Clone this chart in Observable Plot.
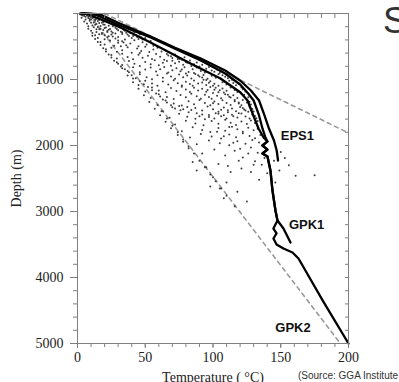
<!DOCTYPE html>
<html>
<head>
<meta charset="utf-8">
<script src="https://cdn.jsdelivr.net/npm/d3@7"></script>
<script src="https://cdn.jsdelivr.net/npm/@observablehq/plot@0.6"></script>
<style>
  html, body { margin: 0; padding: 0; background: #fff; }
  #wrap { position: relative; width: 399px; height: 382px; overflow: hidden; }
  #title { position: absolute; left: 383px; top: 1px; font-family: "Liberation Sans", Arial, sans-serif; font-size: 36px; color: #333; line-height: 40px; white-space: nowrap; }
  #source { position: absolute; left: 298px; top: 370px; font-family: "Liberation Sans", Arial, sans-serif; font-size: 10px; color: #333; line-height: 12px; white-space: nowrap; }
</style>
</head>
<body>
<div id="wrap">
  <div id="chart"></div>
  <div id="title">S</div>
  <div id="source">(Source: GGA Institute</div>
</div>
<script>
// ---- Data (temperature °C, depth m) ----
const xMajor = [0, 50, 100, 150, 200];
const yMajor = [1000, 2000, 3000, 4000, 5000];
const xMinor = d3.range(0, 201, 10);
const yMinor = d3.range(0, 5001, 200);

const eps1 = [[4,0],[12,5],[17,15],[30,140],[54,348],[72,520],[91,682],[109,864],[120,1015],[128,1167],[134,1318],[138,1545],[141,1727],[145,1924],[147,2076],[148,2227]];
const gpk1 = [[3,0],[10,5],[13,15],[30,170],[54,364],[72,535],[91,712],[109,909],[120,1076],[126,1212],[130,1318],[134,1545],[136.5,1742],[138.7,1879],[140.2,1939],[136.5,2000],[140.2,2061],[136.5,2121],[140.2,2167],[142.4,2379],[143.9,2682],[146.1,2985],[147.6,3136],[152,3258],[157.2,3470]];
const gpk2 = [[2,0],[6,5],[8.1,15],[31.7,212],[53.9,439],[83.4,758],[105.5,985],[120.3,1197],[125.5,1318],[129.2,1515],[133.6,1742],[137.3,1879],[140.2,1939],[136.5,2000],[140.2,2061],[136.5,2121],[140.2,2167],[142.4,2379],[143.9,2682],[146.1,2985],[147.6,3136],[144.6,3258],[146.9,3333],[144.6,3409],[146.9,3500],[152,3561],[158.7,3621],[163.1,3712],[181,4350],[200,5000]];

const gradHigh = [[20,0],[200,1810]];
const gradLow = [[8,0],[194,5000]];

const wellLabels = [
  {name: "EPS1", T: 150, z: 1924},
  {name: "GPK1", T: 156, z: 3258},
  {name: "GPK2", T: 146, z: 4833}
];

const scatter = [
[2,10],[4,30],[5,15],[6,50],[7,25],[8,70],[9,40],[10,90],[11,20],[12,60],[13,35],[14,80],[15,55],[16,95],[3,65],[9,85],[12,10],[17,45],[6,90],[10,55],
[5,120],[7,150],[9,110],[11,180],[12,135],[14,160],[15,115],[17,190],[18,140],[20,170],[22,125],[23,185],[25,155],[8,195],[13,105],[19,110],[26,195],[16,145],
[8,230],[10,260],[12,210],[14,280],[16,240],[18,295],[20,220],[22,265],[24,235],[26,290],[28,215],[30,255],[32,275],[34,245],[36,290],[11,295],[19,250],
[13,330],[15,370],[18,310],[20,390],[23,345],[25,320],[28,380],[30,355],[33,310],[35,395],[38,340],[40,370],[43,325],[45,385],[47,360],[22,360],
[17,430],[20,470],[24,410],[27,490],[30,445],[33,420],[36,480],[39,455],[42,405],[45,495],[48,435],[51,470],[54,415],[56,490],[32,495],
[21,540],[25,520],[29,580],[33,555],[37,510],[40,595],[44,530],[47,570],[50,505],[53,585],[56,545],[59,520],[62,575],[65,560],[46,600],
[25,630],[29,680],[33,610],[37,660],[41,695],[45,625],[48,670],[52,640],[55,690],[58,615],[61,655],[64,700],[67,635],[70,675],[73,650],[75,690],
[29,740],[33,780],[38,720],[42,760],[46,795],[50,735],[54,770],[57,710],[60,785],[63,745],[66,720],[69,790],[72,755],[75,730],[78,775],[81,745],[84,795],[70,715],
[33,830],[37,870],[41,815],[46,890],[50,850],[54,820],[58,880],[61,845],[64,810],[67,895],[70,860],[73,830],[76,875],[79,815],[82,885],[85,845],[88,820],[91,870],[94,895],[77,850],
[37,940],[41,985],[46,920],[51,965],[55,995],[59,935],[63,975],[66,910],[69,955],[72,990],[75,925],[78,965],[81,940],[84,985],[87,915],[90,955],[93,930],[96,990],[99,945],[102,975],[104,920],[80,910],
[41,1040],[45,1085],[50,1020],[55,1060],[59,1095],[63,1030],[67,1075],[71,1010],[74,1055],[77,1090],[80,1035],[83,1070],[86,1015],[89,1060],[92,1045],[95,1085],[98,1025],[101,1065],[104,1095],[107,1040],[110,1075],[85,1095],[93,1005],
[45,1140],[50,1180],[55,1120],[60,1165],[65,1195],[69,1130],[73,1175],[77,1110],[80,1150],[83,1190],[86,1125],[89,1165],[92,1140],[95,1185],[98,1115],[101,1155],[104,1195],[107,1135],[110,1170],[113,1120],[116,1160],[118,1190],[96,1160],
[49,1240],[54,1280],[60,1225],[66,1265],[71,1295],[76,1235],[80,1270],[84,1215],[88,1255],[91,1290],[94,1230],[97,1265],[100,1205],[103,1245],[106,1285],[109,1225],[112,1260],[115,1240],[118,1280],[121,1215],[99,1290],
[53,1340],[59,1385],[65,1320],[71,1365],[77,1395],[82,1330],[86,1375],[90,1310],[94,1355],[98,1390],[101,1335],[104,1370],[107,1315],[110,1355],[113,1385],[116,1330],[119,1365],[122,1310],[125,1350],[100,1360],
[57,1445],[63,1480],[70,1420],[76,1465],[82,1495],[87,1430],[92,1470],[96,1410],[100,1450],[104,1490],[108,1425],[111,1465],[114,1440],[117,1480],[120,1415],[123,1455],[126,1490],[106,1460],
[61,1540],[68,1580],[75,1520],[81,1565],[87,1595],[92,1530],[97,1570],[102,1510],[106,1555],[110,1590],[114,1535],[118,1575],[121,1515],[124,1560],[127,1590],[129,1530],
[65,1640],[72,1680],[80,1625],[87,1665],[93,1695],[99,1630],[104,1670],[109,1610],[113,1655],[117,1690],[121,1635],[125,1675],[128,1620],[131,1660],
[69,1740],[77,1785],[85,1725],[92,1765],[98,1795],[104,1735],[109,1775],[114,1715],[118,1755],[122,1790],[126,1730],[130,1770],[133,1745],
[74,1840],[83,1880],[91,1825],[99,1865],[106,1895],[112,1835],[117,1875],[122,1815],[127,1855],[131,1890],[135,1840],
[78,1945],[88,1980],[97,1925],[105,1965],[112,1995],[118,1935],[124,1975],[129,1915],[134,1955],
[82,2040],[92,2120],[101,2060],[109,2150],[116,2080],[122,2180],[128,2030],[133,2110],[138,2190],[145,2230],[150,2100],
[85,2250],[95,2330],[104,2280],[113,2400],[121,2350],[130,2290],[140,2420],[149,2380],[156,2300],[161,2460],[175,2450],[88,2380],[100,2480],[110,2560],
[105,2650],[118,2700],[98,2620],[108,2800],[125,2850],[116,2920],
[3,22],[5,38],[7,12],[8,48],[9,28],[11,68],[12,42],[13,88],[14,18],[15,72],[16,33],[18,58],[19,128],[21,96],[10,142],[13,172],[15,205],[17,232],[19,168],[21,212],[23,248],[24,118],[25,272],[27,182],[28,302],[29,236],[31,208],[33,288],[35,262],[37,318],[39,296],[41,342],[42,284],[44,356],[46,318],[48,395],[50,372],[14,240],[16,315],[20,330],[22,280],[26,350],[30,410],[34,440],
[66,612],[69,648],[72,622],[74,688],[77,702],[79,664],[80,735],[83,712],[86,768],[88,742],[90,802],[92,778],[95,836],[97,812],[99,862],[101,884],[103,848],[105,902],[107,936],[109,958],[111,982],[112,1018],[114,1004],[115,1052],[117,1088],[119,1062],[121,1122],[122,1148],[124,1182],[123,1232],[126,1268],[125,1302],[127,1336],[128,1378],[127,1412],[129,1448],[130,1486],[131,1552],[132,1588],[133,1628],
[86,902],[89,935],[92,968],[95,1008],[97,1048],[100,1096],[102,1124],[105,1164],[108,1198],[111,1232],[113,1272],[116,1312],[119,1348],[121,1392],[122,1432],[124,1468],[119,1512],[115,1556],[111,1498],[108,1542],[104,1518],[101,1592],[97,1538],[94,1602],[90,1556],[88,1510],[84,1462],
[81,1418],[78,1452],[75,1402],[72,1438],[69,1392],[66,1348],[63,1302],[61,1258],[58,1212],[55,1162],[52,1114],[49,1072],[46,1028],[43,982],[40,936],[38,892],[35,846],[32,804],[30,762],[27,716],[25,668],[23,620],[21,574],[19,526],[17,478],[15,432],[13,386],[11,338],
[62,1480],[66,1590],[70,1700],[74,1800],[78,1910],[82,2010],[86,2120],[90,2230],[94,2330],[98,2440],[102,2540],[106,2650],[110,2760],
[112,1720],[108,1860],[103,1790],[115,1960],[120,2050],[126,2120],[131,2240],[136,2290],[142,2330],[119,2230],[111,2310],[128,2400],[134,2520],[146,2560],[153,2190]
];

// ---- Build tables ----
const wells = [
  ...eps1.map(([T, z]) => ({well: "EPS1", T, z})),
  ...gpk1.map(([T, z]) => ({well: "GPK1", T, z})),
  ...gpk2.map(([T, z]) => ({well: "GPK2", T, z}))
];
const grads = [
  ...gradHigh.map(([T, z]) => ({g: "high", T, z})),
  ...gradLow.map(([T, z]) => ({g: "low", T, z}))
];
const pts = scatter.map(([T, z]) => ({T, z}));

const axisColor = "#808080";
const serif = "'Liberation Serif', 'Times New Roman', serif";
const blank = () => "";
const fmt = d3.format("d");

const chart = Plot.plot({
  width: 399,
  height: 382,
  marginLeft: 77,
  marginRight: 51,
  marginTop: 13,
  marginBottom: 39,
  x: {domain: [0, 200]},
  y: {domain: [0, 5000], reverse: true},
  style: {fontFamily: serif, fontSize: "14px", color: "#222", background: "white"},
  marks: [
    Plot.line(grads, {x: "T", y: "z", z: "g", stroke: "#999", strokeWidth: 1.6, strokeDasharray: "4,4"}),
    Plot.dot(pts, {x: "T", y: "z", r: 1, fill: "#3c3c3c", stroke: null}),
    Plot.line(wells, {x: "T", y: "z", z: "well", stroke: "#000", strokeWidth: 2.3, curve: "linear"}),
    Plot.text(wellLabels, {x: "T", y: "z", text: "name", textAnchor: "start", lineAnchor: "bottom", fontFamily: "'Liberation Sans', Arial, sans-serif", fontWeight: "bold", fontSize: 13, fill: "#111"}),
    Plot.frame({stroke: axisColor, strokeWidth: 1}),
    Plot.axisX({ticks: xMajor, tickSize: 5, tickPadding: 4, tickFormat: fmt, stroke: axisColor, fill: "#222", fontFamily: serif, fontSize: 14, label: "Temperature ( °C)", labelArrow: "none", labelAnchor: "center", labelOffset: 38}),
    Plot.axisX({ticks: xMinor, tickSize: 4, tickFormat: blank, stroke: axisColor, label: null}),
    Plot.axisX({anchor: "top", ticks: xMinor, tickSize: -4, tickFormat: blank, stroke: axisColor, label: null}),
    Plot.axisY({ticks: yMajor, tickSize: 7, tickPadding: 7, tickFormat: fmt, stroke: axisColor, fill: "#222", fontFamily: serif, fontSize: 14, label: "Depth (m)", labelArrow: "none", labelAnchor: "center", labelOffset: 66}),
    Plot.axisY({ticks: yMinor, tickSize: 4, tickFormat: blank, stroke: axisColor, label: null}),
    Plot.axisY({anchor: "right", ticks: yMinor, tickSize: -4, tickFormat: blank, stroke: axisColor, label: null})
  ]
});
document.getElementById("chart").appendChild(chart);
</script>
</body>
</html>
